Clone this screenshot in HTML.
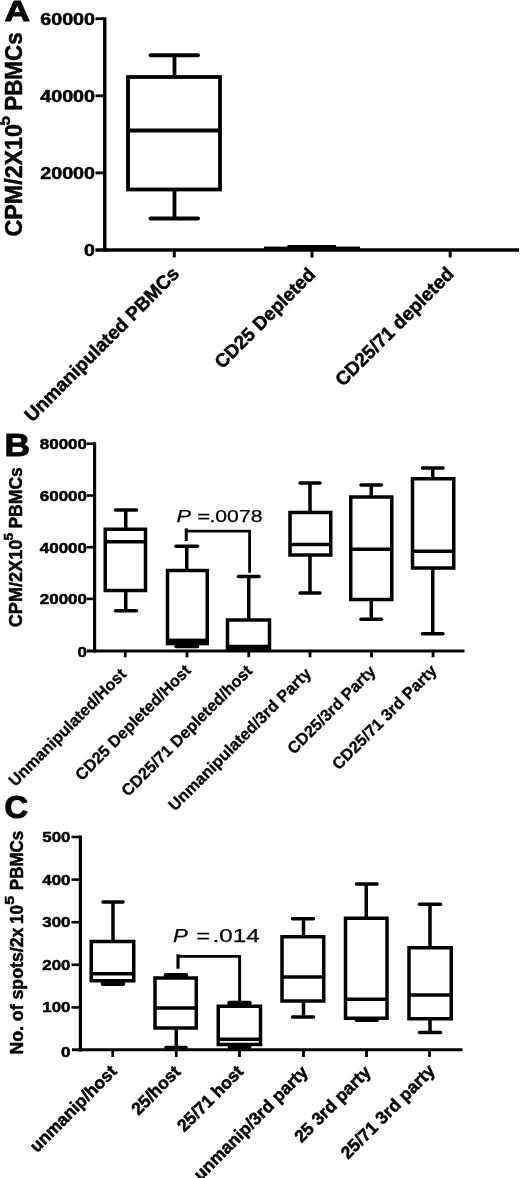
<!DOCTYPE html>
<html lang="en">
<head>
<meta charset="utf-8">
<title>Figure</title>
<style>
html,body{margin:0;padding:0;background:#fff;}
body{width:520px;height:1178px;overflow:hidden;}
svg{display:block;}
svg text{font-family:"Liberation Sans",sans-serif;fill:#000;}
svg .k{stroke:#000;}
</style>
</head>
<body>
<svg width="520" height="1178" viewBox="0 0 520 1178">
<rect x="0" y="0" width="520" height="1178" fill="#fff" stroke="none"/>
<g id="panelA">
<line class="k" x1="104.75" y1="17.30" x2="104.75" y2="251.70" stroke-width="3.4" stroke-linecap="butt"/>
<line class="k" x1="95.50" y1="250.00" x2="519.00" y2="250.00" stroke-width="3.5" stroke-linecap="butt"/>
<line class="k" x1="95.50" y1="18.75" x2="104.75" y2="18.75" stroke-width="2.8" stroke-linecap="butt"/>
<line class="k" x1="95.50" y1="95.80" x2="104.75" y2="95.80" stroke-width="2.8" stroke-linecap="butt"/>
<line class="k" x1="95.50" y1="172.90" x2="104.75" y2="172.90" stroke-width="2.8" stroke-linecap="butt"/>
<line class="k" x1="174.25" y1="250.00" x2="174.25" y2="257.50" stroke-width="3" stroke-linecap="butt"/>
<line class="k" x1="312.00" y1="250.00" x2="312.00" y2="257.50" stroke-width="3" stroke-linecap="butt"/>
<line class="k" x1="450.20" y1="250.00" x2="450.20" y2="257.50" stroke-width="3" stroke-linecap="butt"/>
<line class="k" x1="174.50" y1="55.25" x2="174.50" y2="77.00" stroke-width="3.8" stroke-linecap="butt"/>
<line class="k" x1="150.50" y1="55.25" x2="198.00" y2="55.25" stroke-width="3.8" stroke-linecap="round"/>
<line class="k" x1="174.50" y1="189.50" x2="174.50" y2="218.50" stroke-width="3.8" stroke-linecap="butt"/>
<line class="k" x1="150.50" y1="218.50" x2="198.00" y2="218.50" stroke-width="3.8" stroke-linecap="round"/>
<rect class="k" x="128.00" y="77.00" width="92.00" height="112.50" fill="#fff" stroke-width="3.8" stroke-linejoin="miter"/>
<line class="k" x1="128.00" y1="130.50" x2="220.00" y2="130.50" stroke-width="3.8" stroke-linecap="butt"/>
<rect x="264" y="246.6" width="96" height="3" fill="#000" stroke="none"/>
<rect x="287.5" y="245" width="48.5" height="4" fill="#000" stroke="none"/>
<text x="4.50" y="21.20" font-size="29.5" font-weight="bold" font-style="normal" text-anchor="start" textLength="25.50" lengthAdjust="spacingAndGlyphs" stroke="#000" stroke-width="1.0" stroke-linejoin="round">A</text>
<text x="95.00" y="24.55" font-size="16.6" font-weight="bold" font-style="normal" text-anchor="end" textLength="54.75" lengthAdjust="spacingAndGlyphs" stroke="#000" stroke-width="0.5" stroke-linejoin="round">60000</text>
<text x="95.00" y="101.60" font-size="16.6" font-weight="bold" font-style="normal" text-anchor="end" textLength="54.75" lengthAdjust="spacingAndGlyphs" stroke="#000" stroke-width="0.5" stroke-linejoin="round">40000</text>
<text x="95.00" y="178.70" font-size="16.6" font-weight="bold" font-style="normal" text-anchor="end" textLength="54.75" lengthAdjust="spacingAndGlyphs" stroke="#000" stroke-width="0.5" stroke-linejoin="round">20000</text>
<text x="95.00" y="255.80" font-size="16.6" font-weight="bold" font-style="normal" text-anchor="end" textLength="10.95" lengthAdjust="spacingAndGlyphs" stroke="#000" stroke-width="0.5" stroke-linejoin="round">0</text>
<text transform="translate(22.00 236.50) rotate(-90)" font-size="23.5" font-weight="bold" font-style="normal" text-anchor="start" textLength="112.50" lengthAdjust="spacingAndGlyphs" stroke="#000" stroke-width="0.5" stroke-linejoin="round">CPM/2X10</text>
<text transform="translate(9.60 125.60) rotate(-90)" font-size="16.5" font-weight="bold" font-style="normal" text-anchor="start" textLength="9.60" lengthAdjust="spacingAndGlyphs" stroke="#000" stroke-width="0.5" stroke-linejoin="round">5</text>
<text transform="translate(22.00 110.80) rotate(-90)" font-size="23.5" font-weight="bold" font-style="normal" text-anchor="start" textLength="78.50" lengthAdjust="spacingAndGlyphs" stroke="#000" stroke-width="0.5" stroke-linejoin="round">PBMCs</text>
<text transform="translate(180.27 274.81) rotate(-45)" font-size="19.05" font-weight="bold" font-style="normal" text-anchor="end" stroke="#000" stroke-width="0.5" stroke-linejoin="round">Unmanipulated PBMCs</text>
<text transform="translate(316.42 275.56) rotate(-45)" font-size="18.85" font-weight="bold" font-style="normal" text-anchor="end" stroke="#000" stroke-width="0.5" stroke-linejoin="round">CD25 Depleted</text>
<text transform="translate(454.98 275.12) rotate(-45)" font-size="19.02" font-weight="bold" font-style="normal" text-anchor="end" stroke="#000" stroke-width="0.5" stroke-linejoin="round">CD25/71 depleted</text>
</g>
<g id="panelB">
<line class="k" x1="94.60" y1="442.30" x2="94.60" y2="652.50" stroke-width="3.2" stroke-linecap="butt"/>
<line class="k" x1="87.00" y1="651.00" x2="464.50" y2="651.00" stroke-width="2.9" stroke-linecap="butt"/>
<line class="k" x1="87.00" y1="443.75" x2="94.60" y2="443.75" stroke-width="2.6" stroke-linecap="butt"/>
<line class="k" x1="87.00" y1="495.50" x2="94.60" y2="495.50" stroke-width="2.6" stroke-linecap="butt"/>
<line class="k" x1="87.00" y1="547.20" x2="94.60" y2="547.20" stroke-width="2.6" stroke-linecap="butt"/>
<line class="k" x1="87.00" y1="598.90" x2="94.60" y2="598.90" stroke-width="2.6" stroke-linecap="butt"/>
<line class="k" x1="125.25" y1="651.00" x2="125.25" y2="657.30" stroke-width="2.8" stroke-linecap="butt"/>
<line class="k" x1="187.00" y1="651.00" x2="187.00" y2="657.30" stroke-width="2.8" stroke-linecap="butt"/>
<line class="k" x1="248.75" y1="651.00" x2="248.75" y2="657.30" stroke-width="2.8" stroke-linecap="butt"/>
<line class="k" x1="310.00" y1="651.00" x2="310.00" y2="657.30" stroke-width="2.8" stroke-linecap="butt"/>
<line class="k" x1="371.50" y1="651.00" x2="371.50" y2="657.30" stroke-width="2.8" stroke-linecap="butt"/>
<line class="k" x1="433.00" y1="651.00" x2="433.00" y2="657.30" stroke-width="2.8" stroke-linecap="butt"/>
<line class="k" x1="125.75" y1="510.00" x2="125.75" y2="529.25" stroke-width="3.5" stroke-linecap="butt"/>
<line class="k" x1="115.50" y1="510.00" x2="136.50" y2="510.00" stroke-width="3.5" stroke-linecap="round"/>
<line class="k" x1="125.75" y1="590.50" x2="125.75" y2="610.75" stroke-width="3.5" stroke-linecap="butt"/>
<line class="k" x1="115.50" y1="610.75" x2="136.50" y2="610.75" stroke-width="3.5" stroke-linecap="round"/>
<rect class="k" x="105.25" y="529.25" width="40.25" height="61.25" fill="#fff" stroke-width="3.5" stroke-linejoin="miter"/>
<line class="k" x1="105.25" y1="541.75" x2="145.50" y2="541.75" stroke-width="3.5" stroke-linecap="butt"/>
<line class="k" x1="186.75" y1="546.25" x2="186.75" y2="570.50" stroke-width="3.5" stroke-linecap="butt"/>
<line class="k" x1="176.00" y1="546.25" x2="197.50" y2="546.25" stroke-width="3.5" stroke-linecap="round"/>
<line class="k" x1="186.75" y1="643.50" x2="186.75" y2="646.50" stroke-width="3.5" stroke-linecap="butt"/>
<line class="k" x1="176.00" y1="646.50" x2="197.50" y2="646.50" stroke-width="3.5" stroke-linecap="round"/>
<rect class="k" x="167.50" y="570.50" width="39.75" height="73.00" fill="#fff" stroke-width="3.5" stroke-linejoin="miter"/>
<line class="k" x1="167.50" y1="640.50" x2="207.25" y2="640.50" stroke-width="3.5" stroke-linecap="butt"/>
<rect x="166" y="638.8" width="42.8" height="6.3" fill="#000" stroke="none"/>
<line class="k" x1="248.75" y1="576.50" x2="248.75" y2="620.00" stroke-width="3.5" stroke-linecap="butt"/>
<line class="k" x1="238.50" y1="576.50" x2="259.00" y2="576.50" stroke-width="3.5" stroke-linecap="round"/>
<rect class="k" x="227.50" y="620.00" width="42.00" height="29.00" fill="#fff" stroke-width="3.5" stroke-linejoin="miter"/>
<line class="k" x1="227.50" y1="646.50" x2="269.50" y2="646.50" stroke-width="3.5" stroke-linecap="butt"/>
<rect x="226" y="645" width="45" height="5.5" fill="#000" stroke="none"/>
<line class="k" x1="310.00" y1="483.00" x2="310.00" y2="512.50" stroke-width="3.5" stroke-linecap="butt"/>
<line class="k" x1="300.00" y1="483.00" x2="320.00" y2="483.00" stroke-width="3.5" stroke-linecap="round"/>
<line class="k" x1="310.00" y1="555.00" x2="310.00" y2="593.00" stroke-width="3.5" stroke-linecap="butt"/>
<line class="k" x1="300.00" y1="593.00" x2="320.00" y2="593.00" stroke-width="3.5" stroke-linecap="round"/>
<rect class="k" x="290.00" y="512.50" width="40.75" height="42.50" fill="#fff" stroke-width="3.5" stroke-linejoin="miter"/>
<line class="k" x1="290.00" y1="544.50" x2="330.75" y2="544.50" stroke-width="3.5" stroke-linecap="butt"/>
<line class="k" x1="371.25" y1="485.00" x2="371.25" y2="497.00" stroke-width="3.5" stroke-linecap="butt"/>
<line class="k" x1="361.00" y1="485.00" x2="381.50" y2="485.00" stroke-width="3.5" stroke-linecap="round"/>
<line class="k" x1="371.25" y1="599.50" x2="371.25" y2="619.25" stroke-width="3.5" stroke-linecap="butt"/>
<line class="k" x1="361.00" y1="619.25" x2="381.50" y2="619.25" stroke-width="3.5" stroke-linecap="round"/>
<rect class="k" x="350.75" y="497.00" width="41.00" height="102.50" fill="#fff" stroke-width="3.5" stroke-linejoin="miter"/>
<line class="k" x1="350.75" y1="549.25" x2="391.75" y2="549.25" stroke-width="3.5" stroke-linecap="butt"/>
<line class="k" x1="432.75" y1="468.00" x2="432.75" y2="478.75" stroke-width="3.5" stroke-linecap="butt"/>
<line class="k" x1="422.50" y1="468.00" x2="443.00" y2="468.00" stroke-width="3.5" stroke-linecap="round"/>
<line class="k" x1="432.75" y1="568.00" x2="432.75" y2="633.75" stroke-width="3.5" stroke-linecap="butt"/>
<line class="k" x1="422.50" y1="633.75" x2="443.00" y2="633.75" stroke-width="3.5" stroke-linecap="round"/>
<rect class="k" x="412.50" y="478.75" width="41.25" height="89.25" fill="#fff" stroke-width="3.5" stroke-linejoin="miter"/>
<line class="k" x1="412.50" y1="551.25" x2="453.75" y2="551.25" stroke-width="3.5" stroke-linecap="butt"/>
<polyline class="k" points="186.25,541 186.25,528.4" fill="none" stroke-width="3"/>
<polyline class="k" points="186.25,531.2 249.6,531.2 249.6,572.8" fill="none" stroke-width="2.8"/>
<text x="4.60" y="456.00" font-size="31" font-weight="bold" font-style="normal" text-anchor="start" textLength="25.50" lengthAdjust="spacingAndGlyphs" stroke="#000" stroke-width="1.0" stroke-linejoin="round">B</text>
<text x="87.00" y="449.05" font-size="14.6" font-weight="bold" font-style="normal" text-anchor="end" textLength="47.25" lengthAdjust="spacingAndGlyphs" stroke="#000" stroke-width="0.5" stroke-linejoin="round">80000</text>
<text x="87.00" y="500.80" font-size="14.6" font-weight="bold" font-style="normal" text-anchor="end" textLength="47.25" lengthAdjust="spacingAndGlyphs" stroke="#000" stroke-width="0.5" stroke-linejoin="round">60000</text>
<text x="87.00" y="552.50" font-size="14.6" font-weight="bold" font-style="normal" text-anchor="end" textLength="47.25" lengthAdjust="spacingAndGlyphs" stroke="#000" stroke-width="0.5" stroke-linejoin="round">40000</text>
<text x="87.00" y="604.20" font-size="14.6" font-weight="bold" font-style="normal" text-anchor="end" textLength="47.25" lengthAdjust="spacingAndGlyphs" stroke="#000" stroke-width="0.5" stroke-linejoin="round">20000</text>
<text x="87.00" y="657.00" font-size="14.6" font-weight="bold" font-style="normal" text-anchor="end" textLength="9.45" lengthAdjust="spacingAndGlyphs" stroke="#000" stroke-width="0.5" stroke-linejoin="round">0</text>
<text transform="translate(22.00 627.20) rotate(-90)" font-size="18.5" font-weight="bold" font-style="normal" text-anchor="start" textLength="87.50" lengthAdjust="spacingAndGlyphs" stroke="#000" stroke-width="0.5" stroke-linejoin="round">CPM/2X10</text>
<text transform="translate(12.80 540.40) rotate(-90)" font-size="12.5" font-weight="bold" font-style="normal" text-anchor="start" textLength="7.50" lengthAdjust="spacingAndGlyphs" stroke="#000" stroke-width="0.5" stroke-linejoin="round">5</text>
<text transform="translate(22.00 528.60) rotate(-90)" font-size="18.5" font-weight="bold" font-style="normal" text-anchor="start" textLength="61.50" lengthAdjust="spacingAndGlyphs" stroke="#000" stroke-width="0.5" stroke-linejoin="round">PBMCs</text>
<text transform="translate(127.23 675.23) rotate(-45)" font-size="16.31" font-weight="bold" font-style="normal" text-anchor="end" stroke="#000" stroke-width="0.3" stroke-linejoin="round">Unmanipulated/Host</text>
<text transform="translate(191.77 671.46) rotate(-45)" font-size="16.28" font-weight="bold" font-style="normal" text-anchor="end" stroke="#000" stroke-width="0.3" stroke-linejoin="round">CD25 Depleted/Host</text>
<text transform="translate(253.38 671.93) rotate(-45)" font-size="16.38" font-weight="bold" font-style="normal" text-anchor="end" stroke="#000" stroke-width="0.3" stroke-linejoin="round">CD25/71 Depleted/host</text>
<text transform="translate(312.16 674.49) rotate(-45)" font-size="16.4" font-weight="bold" font-style="normal" text-anchor="end" stroke="#000" stroke-width="0.3" stroke-linejoin="round">Unmanipulated/3rd Party</text>
<text transform="translate(376.59 672.37) rotate(-45)" font-size="16.3" font-weight="bold" font-style="normal" text-anchor="end" stroke="#000" stroke-width="0.3" stroke-linejoin="round">CD25/3rd Party</text>
<text transform="translate(437.75 671.62) rotate(-45)" font-size="16.36" font-weight="bold" font-style="normal" text-anchor="end" stroke="#000" stroke-width="0.3" stroke-linejoin="round">CD25/71 3rd Party</text>
<text y="521.9" font-size="17.4" font-weight="normal" stroke="#000" stroke-width="0.25"><tspan x="176.6" font-style="italic" textLength="14.6" lengthAdjust="spacingAndGlyphs">P</tspan><tspan x="197.3" textLength="12.9" lengthAdjust="spacingAndGlyphs">=</tspan><tspan x="209.4" textLength="53.2" lengthAdjust="spacingAndGlyphs">.0078</tspan></text>
</g>
<g id="panelC">
<line class="k" x1="80.40" y1="835.50" x2="80.40" y2="1051.60" stroke-width="3.2" stroke-linecap="butt"/>
<line class="k" x1="72.00" y1="1049.80" x2="462.50" y2="1049.80" stroke-width="3.0" stroke-linecap="butt"/>
<line class="k" x1="71.50" y1="837.00" x2="80.40" y2="837.00" stroke-width="2.6" stroke-linecap="butt"/>
<line class="k" x1="71.50" y1="879.60" x2="80.40" y2="879.60" stroke-width="2.6" stroke-linecap="butt"/>
<line class="k" x1="71.50" y1="922.20" x2="80.40" y2="922.20" stroke-width="2.6" stroke-linecap="butt"/>
<line class="k" x1="71.50" y1="964.80" x2="80.40" y2="964.80" stroke-width="2.6" stroke-linecap="butt"/>
<line class="k" x1="71.50" y1="1007.40" x2="80.40" y2="1007.40" stroke-width="2.6" stroke-linecap="butt"/>
<line class="k" x1="112.75" y1="1050.00" x2="112.75" y2="1057.00" stroke-width="2.8" stroke-linecap="butt"/>
<line class="k" x1="176.25" y1="1050.00" x2="176.25" y2="1057.00" stroke-width="2.8" stroke-linecap="butt"/>
<line class="k" x1="239.50" y1="1050.00" x2="239.50" y2="1057.00" stroke-width="2.8" stroke-linecap="butt"/>
<line class="k" x1="303.50" y1="1050.00" x2="303.50" y2="1057.00" stroke-width="2.8" stroke-linecap="butt"/>
<line class="k" x1="366.50" y1="1050.00" x2="366.50" y2="1057.00" stroke-width="2.8" stroke-linecap="butt"/>
<line class="k" x1="429.50" y1="1050.00" x2="429.50" y2="1057.00" stroke-width="2.8" stroke-linecap="butt"/>
<line class="k" x1="113.00" y1="902.00" x2="113.00" y2="941.50" stroke-width="3.5" stroke-linecap="butt"/>
<line class="k" x1="103.00" y1="902.00" x2="123.00" y2="902.00" stroke-width="3.5" stroke-linecap="round"/>
<line class="k" x1="113.00" y1="980.75" x2="113.00" y2="983.80" stroke-width="3.5" stroke-linecap="butt"/>
<line class="k" x1="103.00" y1="983.80" x2="123.00" y2="983.80" stroke-width="4.6" stroke-linecap="round"/>
<rect class="k" x="91.25" y="941.50" width="42.50" height="39.25" fill="#fff" stroke-width="3.5" stroke-linejoin="miter"/>
<line class="k" x1="91.25" y1="973.75" x2="133.75" y2="973.75" stroke-width="3.5" stroke-linecap="butt"/>
<line class="k" x1="176.25" y1="975.20" x2="176.25" y2="978.00" stroke-width="3.5" stroke-linecap="butt"/>
<line class="k" x1="166.00" y1="975.20" x2="186.00" y2="975.20" stroke-width="4.6" stroke-linecap="round"/>
<line class="k" x1="176.25" y1="1028.00" x2="176.25" y2="1047.50" stroke-width="3.5" stroke-linecap="butt"/>
<line class="k" x1="166.00" y1="1047.50" x2="186.00" y2="1047.50" stroke-width="3.5" stroke-linecap="round"/>
<rect class="k" x="155.00" y="978.00" width="41.25" height="50.00" fill="#fff" stroke-width="3.5" stroke-linejoin="miter"/>
<line class="k" x1="155.00" y1="1008.00" x2="196.25" y2="1008.00" stroke-width="3.5" stroke-linecap="butt"/>
<line class="k" x1="239.50" y1="1003.00" x2="239.50" y2="1006.25" stroke-width="3.5" stroke-linecap="butt"/>
<line class="k" x1="229.50" y1="1003.00" x2="249.50" y2="1003.00" stroke-width="4.6" stroke-linecap="round"/>
<line class="k" x1="239.50" y1="1044.50" x2="239.50" y2="1047.30" stroke-width="3.5" stroke-linecap="butt"/>
<line class="k" x1="229.50" y1="1047.30" x2="249.50" y2="1047.30" stroke-width="3.5" stroke-linecap="round"/>
<rect class="k" x="218.25" y="1006.25" width="42.25" height="38.25" fill="#fff" stroke-width="3.5" stroke-linejoin="miter"/>
<line class="k" x1="218.25" y1="1039.25" x2="260.50" y2="1039.25" stroke-width="3.5" stroke-linecap="butt"/>
<line class="k" x1="303.50" y1="918.75" x2="303.50" y2="936.75" stroke-width="3.5" stroke-linecap="butt"/>
<line class="k" x1="292.50" y1="918.75" x2="313.50" y2="918.75" stroke-width="3.5" stroke-linecap="round"/>
<line class="k" x1="303.50" y1="1001.00" x2="303.50" y2="1017.00" stroke-width="3.5" stroke-linecap="butt"/>
<line class="k" x1="292.50" y1="1017.00" x2="313.50" y2="1017.00" stroke-width="3.5" stroke-linecap="round"/>
<rect class="k" x="282.00" y="936.75" width="41.75" height="64.25" fill="#fff" stroke-width="3.5" stroke-linejoin="miter"/>
<line class="k" x1="282.00" y1="977.00" x2="323.75" y2="977.00" stroke-width="3.5" stroke-linecap="butt"/>
<line class="k" x1="366.25" y1="884.00" x2="366.25" y2="918.25" stroke-width="3.5" stroke-linecap="butt"/>
<line class="k" x1="356.50" y1="884.00" x2="377.00" y2="884.00" stroke-width="3.5" stroke-linecap="round"/>
<line class="k" x1="366.25" y1="1018.25" x2="366.25" y2="1020.30" stroke-width="3.5" stroke-linecap="butt"/>
<line class="k" x1="356.50" y1="1020.30" x2="377.00" y2="1020.30" stroke-width="3.6" stroke-linecap="round"/>
<rect class="k" x="345.50" y="918.25" width="41.50" height="100.00" fill="#fff" stroke-width="3.5" stroke-linejoin="miter"/>
<line class="k" x1="345.50" y1="999.25" x2="387.00" y2="999.25" stroke-width="3.5" stroke-linecap="butt"/>
<line class="k" x1="430.00" y1="904.25" x2="430.00" y2="947.75" stroke-width="3.5" stroke-linecap="butt"/>
<line class="k" x1="419.50" y1="904.25" x2="440.50" y2="904.25" stroke-width="3.5" stroke-linecap="round"/>
<line class="k" x1="430.00" y1="1018.75" x2="430.00" y2="1032.50" stroke-width="3.5" stroke-linecap="butt"/>
<line class="k" x1="419.50" y1="1032.50" x2="440.50" y2="1032.50" stroke-width="3.5" stroke-linecap="round"/>
<rect class="k" x="409.00" y="947.75" width="42.25" height="71.00" fill="#fff" stroke-width="3.5" stroke-linejoin="miter"/>
<line class="k" x1="409.00" y1="995.00" x2="451.25" y2="995.00" stroke-width="3.5" stroke-linecap="butt"/>
<polyline class="k" points="178,968.75 178,954.3" fill="none" stroke-width="3.1"/>
<polyline class="k" points="178,956.4 239.6,956.4 239.6,1001" fill="none" stroke-width="2.9"/>
<text x="4.60" y="818.20" font-size="31" font-weight="bold" font-style="normal" text-anchor="start" textLength="23.60" lengthAdjust="spacingAndGlyphs" stroke="#000" stroke-width="1.0" stroke-linejoin="round">C</text>
<text x="70.50" y="842.00" font-size="15.3" font-weight="bold" font-style="normal" text-anchor="end" textLength="28.20" lengthAdjust="spacingAndGlyphs" stroke="#000" stroke-width="0.5" stroke-linejoin="round">500</text>
<text x="70.50" y="884.60" font-size="15.3" font-weight="bold" font-style="normal" text-anchor="end" textLength="28.20" lengthAdjust="spacingAndGlyphs" stroke="#000" stroke-width="0.5" stroke-linejoin="round">400</text>
<text x="70.50" y="927.20" font-size="15.3" font-weight="bold" font-style="normal" text-anchor="end" textLength="28.20" lengthAdjust="spacingAndGlyphs" stroke="#000" stroke-width="0.5" stroke-linejoin="round">300</text>
<text x="70.50" y="969.80" font-size="15.3" font-weight="bold" font-style="normal" text-anchor="end" textLength="28.20" lengthAdjust="spacingAndGlyphs" stroke="#000" stroke-width="0.5" stroke-linejoin="round">200</text>
<text x="70.50" y="1012.40" font-size="15.3" font-weight="bold" font-style="normal" text-anchor="end" textLength="28.20" lengthAdjust="spacingAndGlyphs" stroke="#000" stroke-width="0.5" stroke-linejoin="round">100</text>
<text x="70.50" y="1056.50" font-size="15.3" font-weight="bold" font-style="normal" text-anchor="end" textLength="9.40" lengthAdjust="spacingAndGlyphs" stroke="#000" stroke-width="0.5" stroke-linejoin="round">0</text>
<text transform="translate(22.90 1054.60) rotate(-90)" font-size="17.5" font-weight="bold" font-style="normal" text-anchor="start" textLength="127.00" lengthAdjust="spacingAndGlyphs" stroke="#000" stroke-width="0.5" stroke-linejoin="round">No. of spots/2x</text>
<text transform="translate(22.90 924.00) rotate(-90)" font-size="17.5" font-weight="bold" font-style="normal" text-anchor="start" textLength="19.00" lengthAdjust="spacingAndGlyphs" stroke="#000" stroke-width="0.5" stroke-linejoin="round">10</text>
<text transform="translate(13.60 904.80) rotate(-90)" font-size="12" font-weight="bold" font-style="normal" text-anchor="start" textLength="9.00" lengthAdjust="spacingAndGlyphs" stroke="#000" stroke-width="0.5" stroke-linejoin="round">5</text>
<text transform="translate(22.90 890.20) rotate(-90)" font-size="17.5" font-weight="bold" font-style="normal" text-anchor="start" textLength="59.50" lengthAdjust="spacingAndGlyphs" stroke="#000" stroke-width="0.5" stroke-linejoin="round">PBMCs</text>
<text transform="translate(117.78 1072.41) rotate(-45)" font-size="17.45" font-weight="bold" font-style="normal" text-anchor="end" stroke="#000" stroke-width="0.5" stroke-linejoin="round">unmanip/host</text>
<text transform="translate(181.59 1072.84) rotate(-45)" font-size="17.47" font-weight="bold" font-style="normal" text-anchor="end" stroke="#000" stroke-width="0.5" stroke-linejoin="round">25/host</text>
<text transform="translate(244.46 1072.56) rotate(-45)" font-size="17.43" font-weight="bold" font-style="normal" text-anchor="end" stroke="#000" stroke-width="0.5" stroke-linejoin="round">25/71 host</text>
<text transform="translate(308.99 1073.11) rotate(-45)" font-size="17.55" font-weight="bold" font-style="normal" text-anchor="end" stroke="#000" stroke-width="0.5" stroke-linejoin="round">unmanip/3rd party</text>
<text transform="translate(371.88 1073.08) rotate(-45)" font-size="17.58" font-weight="bold" font-style="normal" text-anchor="end" stroke="#000" stroke-width="0.5" stroke-linejoin="round">25 3rd party</text>
<text transform="translate(436.00 1071.90) rotate(-45)" font-size="17.65" font-weight="bold" font-style="normal" text-anchor="end" stroke="#000" stroke-width="0.5" stroke-linejoin="round">25/71 3rd party</text>
<text y="942.3" font-size="17.8" font-weight="normal" stroke="#000" stroke-width="0.25"><tspan x="173.1" font-style="italic" textLength="14.85" lengthAdjust="spacingAndGlyphs">P</tspan><tspan x="196.5" textLength="13.5" lengthAdjust="spacingAndGlyphs">=</tspan><tspan x="212.6" textLength="47.1" lengthAdjust="spacingAndGlyphs">.014</tspan></text>
</g>
</svg>
</body>
</html>
